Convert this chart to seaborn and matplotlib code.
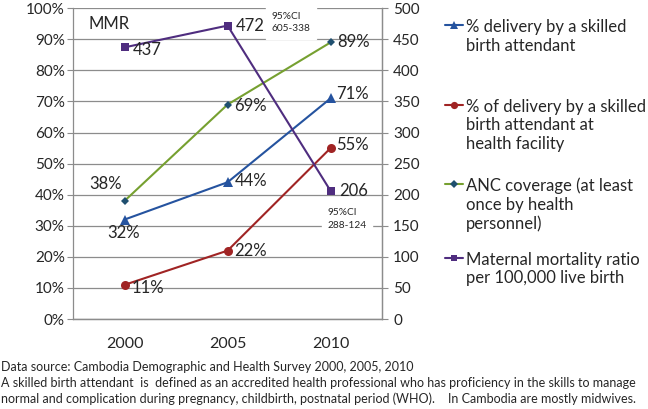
import pandas as pd
import numpy as np
import matplotlib.pyplot as plt
import seaborn as sns

years = [2000, 2005, 2010]
sba = [32, 44, 71]
sba_facility = [11, 22, 55]
anc = [38, 69, 89]
mmr = [437, 472, 206]

pct_ticks = list(range(0, 101, 10))
mmr_ticks = list(range(0, 501, 50))

lbl_sba = '% delivery by a skilled\nbirth attendant'
lbl_fac = '% of delivery by a skilled\nbirth attendant at\nhealth facility'
lbl_anc = 'ANC coverage (at least\nonce by health\npersonnel)'
lbl_mmr = 'Maternal mortality ratio\nper 100,000 live birth'

c_blue = '#25539f'
c_red = '#a02424'
c_green = '#76a030'
c_purple = '#4f2d7f'

df = pd.DataFrame({
    'Year': years * 3,
    'Value': sba + sba_facility + anc,
    'Series': [lbl_sba] * 3 + [lbl_fac] * 3 + [lbl_anc] * 3,
})
df_mmr = pd.DataFrame({'Year': years, 'MMR': mmr})

sns.set_style('white')
plt.rcParams['font.family'] = ['Lato', 'DejaVu Sans']

fig = plt.figure(figsize=(6.48, 4.09), dpi=100)
ax = fig.add_axes([0.1127, 0.22, 0.477, 0.76])
ax2 = ax.twinx()

sns.lineplot(data=df, x='Year', y='Value', hue='Series', style='Series',
             palette=[c_blue, c_red, c_green], markers=['^', 'o', 'D'],
             dashes=False, linewidth=1.5, markersize=6.5, markeredgewidth=0,
             ax=ax, legend=False)
# ANC diamonds are dark blue-green, smaller
for line in ax.get_lines():
    if line.get_marker() == 'D':
        line.set_markerfacecolor('#1f4f6f')
        line.set_markersize(4.5)

sns.lineplot(data=df_mmr, x='Year', y='MMR', color=c_purple, marker='s',
             linewidth=1.5, markersize=6, markeredgewidth=0, ax=ax2)

ax.set_xlim(1997.5, 2012.5)
ax.set_ylim(0, 100)
ax2.set_ylim(0, 500)
ax.set_yticks(pct_ticks)
ax.set_yticklabels([f'{t}%' for t in pct_ticks])
ax2.set_yticks(mmr_ticks)
ax.set_xticks(years)
ax.set_xticks([1997.5, 2002.5, 2007.5, 2012.5], minor=True)
ax.set_xlabel('')
ax.set_ylabel('')
ax2.set_ylabel('')

ax.grid(axis='y', color='#8c8c8c', linewidth=0.9)
ax.tick_params(axis='y', length=4, color='#8c8c8c', labelsize=11, pad=2)
ax2.tick_params(axis='y', length=4, color='#8c8c8c', labelsize=11, pad=4)
ax.tick_params(axis='x', which='major', length=0, labelsize=11.5, pad=13)
ax.tick_params(axis='x', which='minor', length=5, color='#8c8c8c')
for a in (ax, ax2):
    a.spines['top'].set_visible(False)
    for s in ('left', 'right', 'bottom'):
        a.spines[s].set_color('#8c8c8c')
        a.spines[s].set_linewidth(0.9)
ax2.spines['left'].set_visible(False)

fs = 12
def lab(a, x, y, text, dx, dy, ha='left', va='center'):
    a.annotate(text, (x, y), xytext=(dx, dy), textcoords='offset points',
               ha=ha, va=va, fontsize=fs)

lab(ax, years[0], sba[0], f'{sba[0]}%', -1, -10, ha='center')
lab(ax, years[1], sba[1], f'{sba[1]}%', 5, 1)
lab(ax, years[2], sba[2], f'{sba[2]}%', 4, 3)
lab(ax, years[0], sba_facility[0], f'{sba_facility[0]}%', 5, -2)
lab(ax, years[1], sba_facility[1], f'{sba_facility[1]}%', 5, 0)
lab(ax, years[2], sba_facility[2], f'{sba_facility[2]}%', 4, 2)
lab(ax, years[0], anc[0], f'{anc[0]}%', -2, 12, ha='right')
lab(ax, years[1], anc[1], f'{anc[1]}%', 5, -1)
lab(ax, years[2], anc[2], f'{anc[2]}%', 5, 0)
lab(ax2, years[0], mmr[0], str(mmr[0]), 6, -2)
lab(ax2, years[1], mmr[1], str(mmr[1]), 6, 0)
lab(ax2, years[2], mmr[2], str(mmr[2]), 6, 0)

ax.text(0.05, 0.95, 'MMR', transform=ax.transAxes, fontsize=fs, va='center')
ax2.text(2007.15, 477, '95%CI\n605-338', fontsize=7.3, va='center',
         linespacing=1.45, backgroundcolor='white')
ax2.text(2009.85, 161, '95%CI\n288-124', fontsize=7.3, va='center',
         linespacing=1.45, backgroundcolor='white')

handles = [ax.get_lines()[0], ax.get_lines()[1], ax.get_lines()[2],
           ax2.get_lines()[0]]
labels = [lbl_sba, lbl_fac, lbl_anc, lbl_mmr]
centers = [36.5, 125.5, 205, 269]
for h, l, c in zip(handles, labels, centers):
    leg = fig.legend([h], [l], loc='center left',
                     bbox_to_anchor=(445 / 648, 1 - c / 409), frameon=False,
                     fontsize=12, handlelength=1.1, handletextpad=0.15,
                     borderpad=0, borderaxespad=0, markerscale=0.8)
    # put the handle next to the first line of the label, like Excel does
    for col in leg._legend_handle_box.get_children():
        for row in col.get_children():
            row.align = 'top'

foot = ('Data source: Cambodia Demographic and Health Survey 2000, 2005, 2010\n'
        'A skilled birth attendant  is  defined as an accredited health professional who has proficiency in the skills to manage\n'
        'normal and complication during pregnancy, childbirth, postnatal period (WHO).    In Cambodia are mostly midwives.')
fig.text(0.002, 0.117, foot, fontsize=9, va='top', linespacing=1.35)

fig.savefig('out.png', dpi=100)
